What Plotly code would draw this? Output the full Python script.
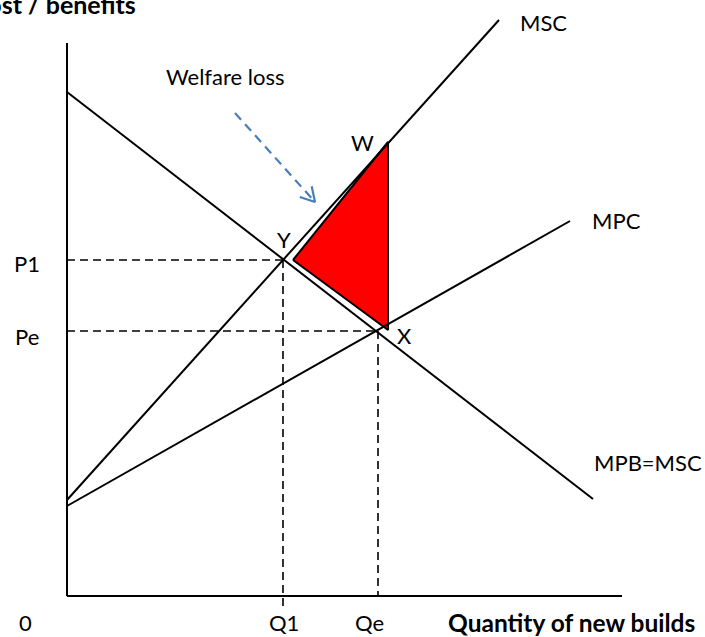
import math
import plotly.graph_objects as go

# ---- data (arbitrary economic units) ----
Q_MAX = 555          # length of quantity axis
P_MAX = 553          # length of cost/benefit axis

msc_q = [0, 432]
msc_p = [96, 576]
mpc_q = [0, 503]
mpc_p = [90, 375]
mpb_q = [0, 526]
mpb_p = [504, 97]

Q1, P1 = 216, 336
Qe, Pe = 311, 265

loss_q = [226, 321, 321, 226]
loss_p = [336, 454, 266, 336]

arrow_start = (168, 483)
arrow_end = (248, 394)

curve_labels = ["MSC", "MPC", "MPB=MSC"]
point_labels = ["W", "Y", "X"]
price_labels = ["P1", "Pe"]
qty_labels = ["0", "Q1", "Qe"]

FONT = "Lato, 'Open Sans', sans-serif"
FS = 22
BLUE = "#4A7EBB"

fig = go.Figure()

def line(xs, ys, dash=None, width=2, color="black"):
    fig.add_trace(go.Scatter(x=xs, y=ys, mode="lines",
                             line=dict(color=color, width=width, dash=dash),
                             hoverinfo="skip", showlegend=False))

# welfare loss triangle
fig.add_trace(go.Scatter(x=loss_q, y=loss_p, mode="lines", fill="toself",
                         fillcolor="#FF0000", line=dict(color="black", width=2),
                         hoverinfo="skip", showlegend=False))

# axes
line([0, 0], [0, P_MAX])
line([0, Q_MAX], [0, 0])

# curves
line(msc_q, msc_p)
line(mpc_q, mpc_p)
line(mpb_q, mpb_p)

# guide lines
DASH = "8px,5px"
line([0, Q1], [P1, P1], dash=DASH, width=1.6)
line([Q1, Q1], [P1, -10], dash=DASH, width=1.6)
line([0, Qe], [Pe, Pe], dash=DASH, width=1.6)
line([Qe, Qe], [Pe, 0], dash=DASH, width=1.6)

# welfare-loss arrow (dashed shaft + open head)
line([arrow_start[0], arrow_end[0]], [arrow_start[1], arrow_end[1]],
     dash="9px,6px", width=2.2, color=BLUE)
ang = math.atan2(arrow_end[1] - arrow_start[1], arrow_end[0] - arrow_start[0])
L = 16
hx, hy = [], []
for d in (math.radians(150), None, math.radians(-150)):
    if d is None:
        hx.append(arrow_end[0]); hy.append(arrow_end[1])
    else:
        hx.append(arrow_end[0] + L * math.cos(ang + d))
        hy.append(arrow_end[1] + L * math.sin(ang + d))
line(hx, hy, width=2.2, color=BLUE)

def text(x, y, s, xanchor="center", bold=False, size=FS):
    fig.add_annotation(x=x, y=y, text=f"<b>{s}</b>" if bold else s,
                       showarrow=False, xanchor=xanchor, yanchor="middle",
                       font=dict(family=FONT, size=size, color="black"))

text(msc_q[1] + 44, msc_p[1] - 2, curve_labels[0])
text(mpc_q[1] + 46, mpc_p[1] + 1, curve_labels[1])
text(mpb_q[1] - 1, mpb_p[1] + 37, curve_labels[2], xanchor="left")

text(loss_q[1] - 26, loss_p[1], point_labels[0])
text(Q1 + 1, P1 + 21, point_labels[1])
text(Qe + 26, Pe - 4, point_labels[2])

text(-40, P1 - 3, price_labels[0])
text(-40, Pe - 5, price_labels[1])

text(-42, -26, qty_labels[0])
text(Q1 + 1, -26, qty_labels[1])
text(Qe - 9, -26, qty_labels[2])
text(630, -26, "Quantity of new builds", xanchor="right", bold=True, size=24.5)
text(71, 592, "Cost / benefits", xanchor="right", bold=True, size=25)
text(158, 520, "Welfare loss")

fig.update_layout(
    width=705, height=637,
    margin=dict(l=0, r=0, t=0, b=0),
    paper_bgcolor="white", plot_bgcolor="white",
    xaxis=dict(range=[-67, 638], visible=False, fixedrange=True),
    yaxis=dict(range=[-41, 596], visible=False, fixedrange=True),
)

fig.write_html("out.html", config={"displayModeBar": False},
               post_script="document.body.style.margin='0px';document.body.style.overflow='hidden';")
